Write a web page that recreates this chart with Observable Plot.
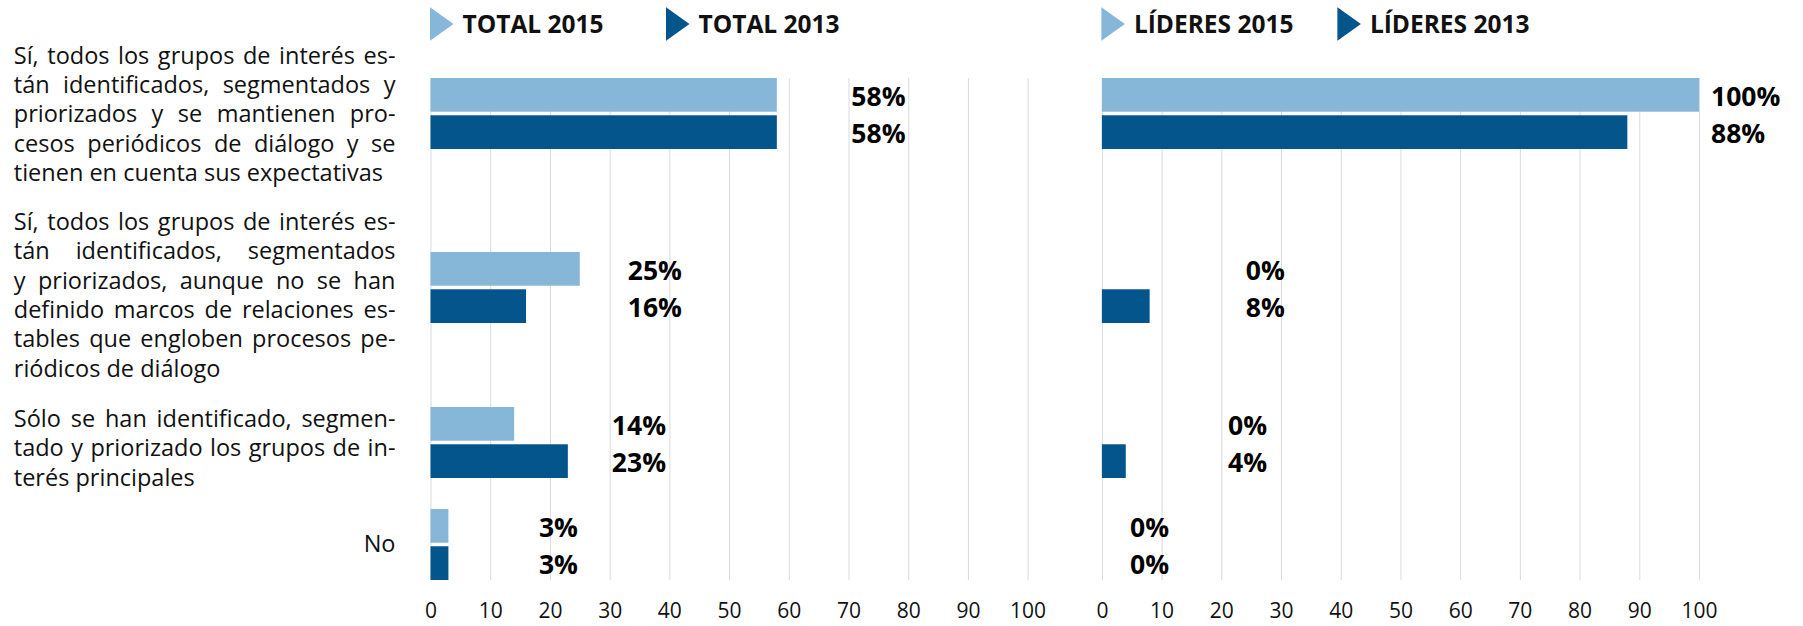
<!DOCTYPE html>
<html>
<head>
<meta charset="utf-8">
<script src="https://cdn.jsdelivr.net/npm/d3@7"></script>
<script src="https://cdn.jsdelivr.net/npm/@observablehq/plot@0.6"></script>
<style>
  html, body { margin: 0; padding: 0; background: #fff; }
  #chart { position: relative; width: 1803px; height: 626px; font-family: "Open Sans", sans-serif; }
</style>
</head>
<body>
<div id="chart"></div>
<script>
// ---------------- DATA ----------------
const categories = [
  "Sí, todos los grupos de interés es-\ntán identificados, segmentados y\npriorizados y se mantienen pro-\ncesos periódicos de diálogo y se\ntienen en cuenta sus expectativas",
  "Sí, todos los grupos de interés es-\ntán identificados, segmentados\ny priorizados, aunque no se han\ndefinido marcos de relaciones es-\ntables que engloben procesos pe-\nriódicos de diálogo",
  "Sólo se han identificado, segmen-\ntado y priorizado los grupos de in-\nterés principales",
  "No"
];
const panels = ["TOTAL", "LÍDERES"];
const years = ["2015", "2013"];
const total2015 = [58, 25, 14, 3];
const total2013 = [58, 16, 23, 3];
const lideres2015 = [100, 0, 0, 0];
const lideres2013 = [88, 8, 4, 0];
const xTicks = [0, 10, 20, 30, 40, 50, 60, 70, 80, 90, 100];
const legendLabels = ["TOTAL 2015", "TOTAL 2013", "LÍDERES 2015", "LÍDERES 2013"];

// ---------------- STYLE / LAYOUT ----------------
const colors = ["#86b7d9", "#03558b"];
const FONT = "'Open Sans', sans-serif";
const W = 1803;
const marginLeft = 430.5, marginRight = 104;
const fxPad = 0.1106;
const rows = [
  {top: 78,  height: 122, mt: 0,  mb: 51, labelDy: -1, pctDx: [74, 11.5]},
  {top: 200, height: 165, mt: 52, mb: 42, labelDy: 6,  pctDx: [47.5, 95.6]},
  {top: 365, height: 128, mt: 42, mb: 15, labelDy: 4,  pctDx: [43.5, 101.8]},
  {top: 493, height: 133, mt: 16, mb: 46, labelDy: -2, pctDx: [90, 27.7]}
];

const series = {TOTAL: [total2015, total2013], "LÍDERES": [lideres2015, lideres2013]};
const chart = document.getElementById("chart");

// ---------------- LEGEND ----------------
const NS = "http://www.w3.org/2000/svg";
const leg = document.createElementNS(NS, "svg");
leg.setAttribute("width", W); leg.setAttribute("height", 50);
leg.style.position = "absolute"; leg.style.left = "0px"; leg.style.top = "0px";
const panelLeft = [marginLeft, 1101.9];
legendLabels.forEach((lab, k) => {
  const p = Math.floor(k / 2), j = k % 2;
  const x = panelLeft[p] - 0.5 + j * 236;
  const tri = document.createElementNS(NS, "polygon");
  tri.setAttribute("points", `${x},7.3 ${x + 23.5},24 ${x},40.7`);
  tri.setAttribute("fill", colors[j]);
  leg.appendChild(tri);
  const t = document.createElementNS(NS, "text");
  t.setAttribute("x", x + 32.5); t.setAttribute("y", 33.3);
  t.setAttribute("font-family", FONT);
  t.setAttribute("font-weight", "bold");
  t.setAttribute("font-size", "24.5");
  t.setAttribute("fill", "#111");
  t.textContent = lab;
  leg.appendChild(t);
});
chart.appendChild(leg);

// ---------------- ROWS ----------------
rows.forEach((row, i) => {
  const last = i === rows.length - 1;
  const bars = [];
  const pct = [];
  panels.forEach(panel => {
    const vals = series[panel].map(s => s[i]);
    const lx = Math.max(...vals);
    years.forEach((year, j) => {
      bars.push({panel, year, value: vals[j]});
      pct.push({panel, year, value: vals[j], lx});
    });
  });
  const labelData = [{panel: "TOTAL", text: categories[i]}];
  const isSingle = !categories[i].includes("\n");

  const plot = Plot.plot({
    width: W,
    height: row.height,
    marginLeft, marginRight,
    marginTop: row.mt,
    marginBottom: row.mb,
    style: {background: "transparent", overflow: "visible", fontFamily: FONT, fontSize: "21px", color: "#111"},
    fx: {domain: panels, paddingInner: fxPad, paddingOuter: 0, axis: null, label: null, round: false},
    x: last
      ? {domain: [0, 100], ticks: xTicks, tickFormat: d => String(d), tickSize: 0, tickPadding: 23, label: null}
      : {domain: [0, 100], axis: null},
    y: {domain: years, paddingInner: 0.095, paddingOuter: 0, axis: null, round: false},
    color: {domain: years, range: colors},
    marks: [
      Plot.ruleX(xTicks, {stroke: "#dadada", strokeWidth: 1, insetTop: -row.mt, insetBottom: last ? 0 : -row.mb}),
      Plot.barX(bars, {x: "value", y: "year", fx: "panel", fill: "year"}),
      ...panels.map((panel, p) => Plot.text(pct.filter(d => d.panel === panel), {
        x: "lx", y: "year", fx: "panel", text: d => d.value + "%",
        textAnchor: "start", dx: row.pctDx[p], dy: 2,
        fontWeight: "bold", fontSize: 26.5, fill: "#000"
      })),
      Plot.text(labelData, {
        fx: "panel", text: "text", frameAnchor: "left",
        textAnchor: isSingle ? "end" : "start",
        dx: isSingle ? (395 - marginLeft) : (13.3 - marginLeft),
        dy: row.labelDy,
        lineAnchor: "middle", lineHeight: 29.3 / 23.5,
        fontSize: 23.5, fill: "#111"
      })
    ]
  });
  plot.style.position = "absolute";
  plot.style.left = "0px";
  plot.style.top = row.top + "px";
  chart.appendChild(plot);
});

// ---------------- JUSTIFY CATEGORY LABELS ----------------
const targetWidth = 395 - 13.3;
function justify() {
  chart.querySelectorAll("text").forEach(t => {
    const spans = t.querySelectorAll("tspan");
    if (spans.length < 2) return;
    spans.forEach((s, k) => {
      if (k === spans.length - 1) return;
      s.style.wordSpacing = "0px";
      const len = s.getComputedTextLength();
      const nSpaces = (s.textContent.match(/ /g) || []).length;
      if (nSpaces > 0) s.style.wordSpacing = ((targetWidth - len) / nSpaces) + "px";
    });
  });
}
justify();
if (document.fonts && document.fonts.ready) document.fonts.ready.then(justify);
</script>
</body>
</html>
